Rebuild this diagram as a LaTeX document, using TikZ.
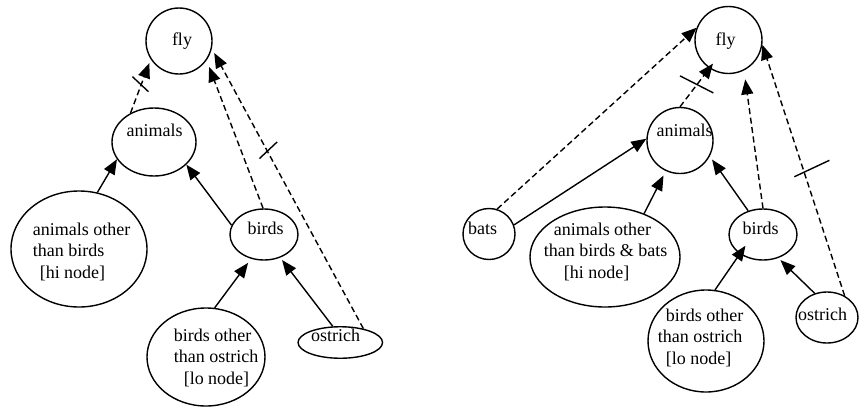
\documentclass[tikz,border=0pt]{standalone}
\usepackage{fontspec}
\setmainfont{Liberation Serif}
\usetikzlibrary{shapes.geometric,arrows.meta,calc}

\begin{document}
\begin{tikzpicture}[x=1pt,y=-1pt,line width=1.4pt,
  oval/.style={draw,ellipse,inner sep=0pt},
  lbl/.style={font=\fontsize{18}{21.5}\selectfont,inner sep=0pt,align=left},
  isa/.style={-{Triangle[length=15pt,width=12pt]}},
  dflt/.style={isa,dash pattern=on 6pt off 3.5pt},
  tick/.style={line width=1.4pt}]
\useasboundingbox (0,0) rectangle (859,407);

% ---------- left network ----------
\node[oval,minimum width=66,minimum height=66] (fly1) at (179,41) {};
\node[lbl] (fly1t) at (182,41.5) {fly};
\node[oval,minimum width=84,minimum height=68] (animals1) at (154,142) {};
\node[lbl] (animals1t) at (154.5,130) {animals};
\node[oval,minimum width=136,minimum height=116] (hi1) at (79,249) {};
\node[lbl] (hi1t) at (81.5,251.5) {animals other\\than birds\\\hspace*{7pt}[hi node]};
\node[oval,minimum width=68,minimum height=51] (birds1) at (264,234.5) {};
\node[lbl] (birds1t) at (265.5,228) {birds};
\node[oval,minimum width=118,minimum height=98] (lo1) at (206,357) {};
\node[lbl] (lo1t) at (216,357.5) {birds other\\than ostrich\\\hspace*{10pt}[lo node]};
\node[oval,minimum width=84.5,minimum height=31.5] (ostrich1) at (340.3,342.5) {};
\node[lbl] (ostrich1t) at (335.5,335.5) {ostrich};

\draw[dflt,shorten >=4pt] (animals1.129) -- coordinate[pos=0.51] (tk1) (fly1.213);
\draw[tick] ($(tk1)+(-8.4,-9)$) -- ($(tk1)+(7.6,6)$);
\draw[dflt,shorten >=7pt] (birds1.92) -- (fly1.-35);
\draw[dflt,shorten >=5pt] (ostrich1.31) -- coordinate[pos=0.637] (tk2) (fly1.-13);
\draw[tick] ($(tk2)+(-7.4,8.3)$) -- ($(tk2)+(10.3,-8.3)$);
\draw[isa] (hi1.72.5) -- (animals1.-155);
\draw[isa] (birds1.164) -- (animals1.-35);
\draw[isa,shorten >=5pt] (lo1.80) -- (birds1.-118);
\draw[isa,shorten >=3pt] (ostrich1.115) -- (birds1.-55);

% ---------- right network ----------
\node[oval,minimum width=67,minimum height=67] (fly2) at (728.5,40) {};
\node[lbl] (fly2t) at (725.5,41) {fly};
\node[oval,minimum width=66,minimum height=66] (animals2) at (680,140.5) {};
\node[lbl] (animals2t) at (684.5,130.5) {animals};
\node[oval,minimum width=52,minimum height=51] (bats) at (489,234) {};
\node[lbl] (batst) at (482.5,228) {bats};
\node[oval,minimum width=150,minimum height=100] (hi2) at (605,257) {};
\node[lbl] (hi2t) at (605.5,251.8) {\hspace*{10pt}animals other\\than birds \& bats\\\hspace*{20pt}[hi node]};
\node[oval,minimum width=68,minimum height=51] (birds2) at (763,234.5) {};
\node[lbl] (birds2t) at (760.5,228) {birds};
\node[oval,minimum width=116,minimum height=102] (lo2) at (706,341) {};
\node[lbl] (lo2t) at (700.7,337.5) {\hspace*{8pt}birds other\\than ostrich\\\hspace*{8pt}[lo node]};
\node[oval,minimum width=62,minimum height=51] (ostrich2) at (827,317.5) {};
\node[lbl] (ostrich2t) at (822.5,314) {ostrich};

\draw[dflt] (bats.72) -- (fly2.159);
\draw[isa] (bats.20) -- (animals2.177);
\draw[dflt,shorten >=-6pt] (animals2.90) -- coordinate[pos=0.58] (tk3) (fly2.-124);
\draw[tick] ($(tk3)+(-17,-8.6)$) -- ($(tk3)+(16.3,8.4)$);
\draw[isa,shorten >=5pt] (hi2.48) -- (animals2.-115);
\draw[isa,shorten >=4pt] (birds2.122) -- (animals2.-28);
\draw[dflt,shorten >=9pt] (birds2.90) -- (fly2.-63);
\draw[dflt] (ostrich2.51.5) -- coordinate[pos=0.49] (tk4) (fly2.-8.5);
\draw[tick] ($(tk4)+(-10,4)$) -- ($(tk4)+(25,-12.4)$);
\draw[isa,shorten >=-10pt] (lo2.80) -- (birds2.-140);
\draw[isa,shorten >=3pt] (ostrich2.117) -- (birds2.-57);
\end{tikzpicture}
\end{document}
